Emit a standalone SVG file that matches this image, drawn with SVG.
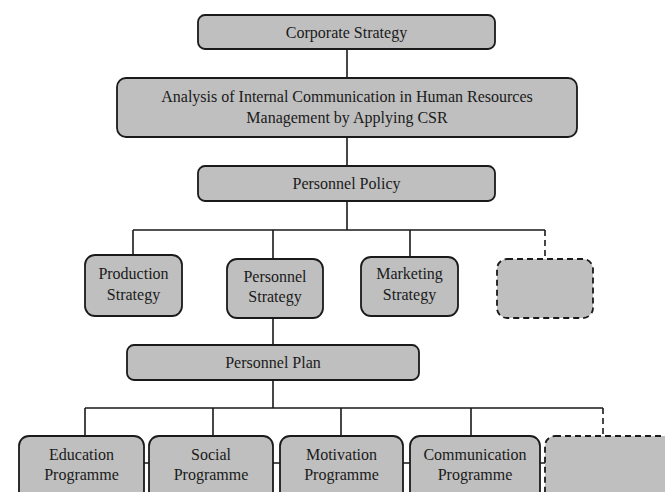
<svg xmlns="http://www.w3.org/2000/svg" width="665" height="492" viewBox="0 0 665 492">
<style>
.box{fill:#bfbfbf;stroke:#1a1a1a;stroke-width:1.8}
.dash{fill:#bfbfbf;stroke:#1a1a1a;stroke-width:1.8;stroke-dasharray:6 4}
.ln{fill:none;stroke:#1a1a1a;stroke-width:1.6}
.dl{fill:none;stroke:#1a1a1a;stroke-width:1.6;stroke-dasharray:6 4}
text{font-family:"Liberation Serif","Times New Roman","DejaVu Serif",serif;font-size:16px;fill:#1a1a1a;text-anchor:middle}
</style>
<rect width="665" height="492" fill="#fff"/>
<g id="connectors">
<path class="ln" d="M347 49V78M347 137V166M347 201V230M133 230H545M133 230V255M273 230V259M410 230V257"/>
<path class="dl" d="M545 230V259"/>
<path class="ln" d="M273 318V345M273 380V408M85 408H603M85 408V436M213 408V436M341 408V436M471 408V436"/>
<path class="dl" d="M603 408V436"/>
<path class="ln" d="M144 463H149M273 463H280M403 463H410M540 463H545"/>
</g>
<g id="corporate"><rect class="box" x="198" y="15" width="297" height="34" rx="7"/><text x="346.5" y="37.5">Corporate Strategy</text></g>
<g id="analysis"><rect class="box" x="117" y="78" width="460" height="59" rx="9"/><text x="347" y="102">Analysis of Internal Communication in Human Resources</text><text x="347" y="123">Management by Applying CSR</text></g>
<g id="policy"><rect class="box" x="198" y="166" width="297" height="35" rx="7"/><text x="346.5" y="188.5">Personnel Policy</text></g>
<g id="production"><rect class="box" x="85" y="255" width="97" height="61" rx="10"/><text x="133.5" y="279">Production</text><text x="133.5" y="300">Strategy</text></g>
<g id="pstrategy"><rect class="box" x="227" y="259" width="96" height="59" rx="10"/><text x="275" y="282">Personnel</text><text x="275" y="302">Strategy</text></g>
<g id="marketing"><rect class="box" x="361" y="257" width="97" height="59" rx="10"/><text x="409.5" y="279">Marketing</text><text x="409.5" y="300">Strategy</text></g>
<g id="empty1"><rect class="dash" x="497" y="259" width="96" height="59" rx="10"/></g>
<g id="plan"><rect class="box" x="127" y="345" width="292" height="35" rx="7"/><text x="273" y="368">Personnel Plan</text></g>
<g id="education"><rect class="box" x="19" y="436" width="125" height="70" rx="10"/><text x="81.5" y="460">Education</text><text x="81.5" y="480">Programme</text></g>
<g id="social"><rect class="box" x="149" y="436" width="124" height="70" rx="10"/><text x="211" y="460">Social</text><text x="211" y="480">Programme</text></g>
<g id="motivation"><rect class="box" x="280" y="436" width="123" height="70" rx="10"/><text x="341.5" y="460">Motivation</text><text x="341.5" y="480">Programme</text></g>
<g id="communication"><rect class="box" x="410" y="436" width="130" height="70" rx="10"/><text x="475" y="460">Communication</text><text x="475" y="480">Programme</text></g>
<g id="empty2"><rect class="dash" x="545" y="436" width="130" height="70" rx="10"/></g>
</svg>
